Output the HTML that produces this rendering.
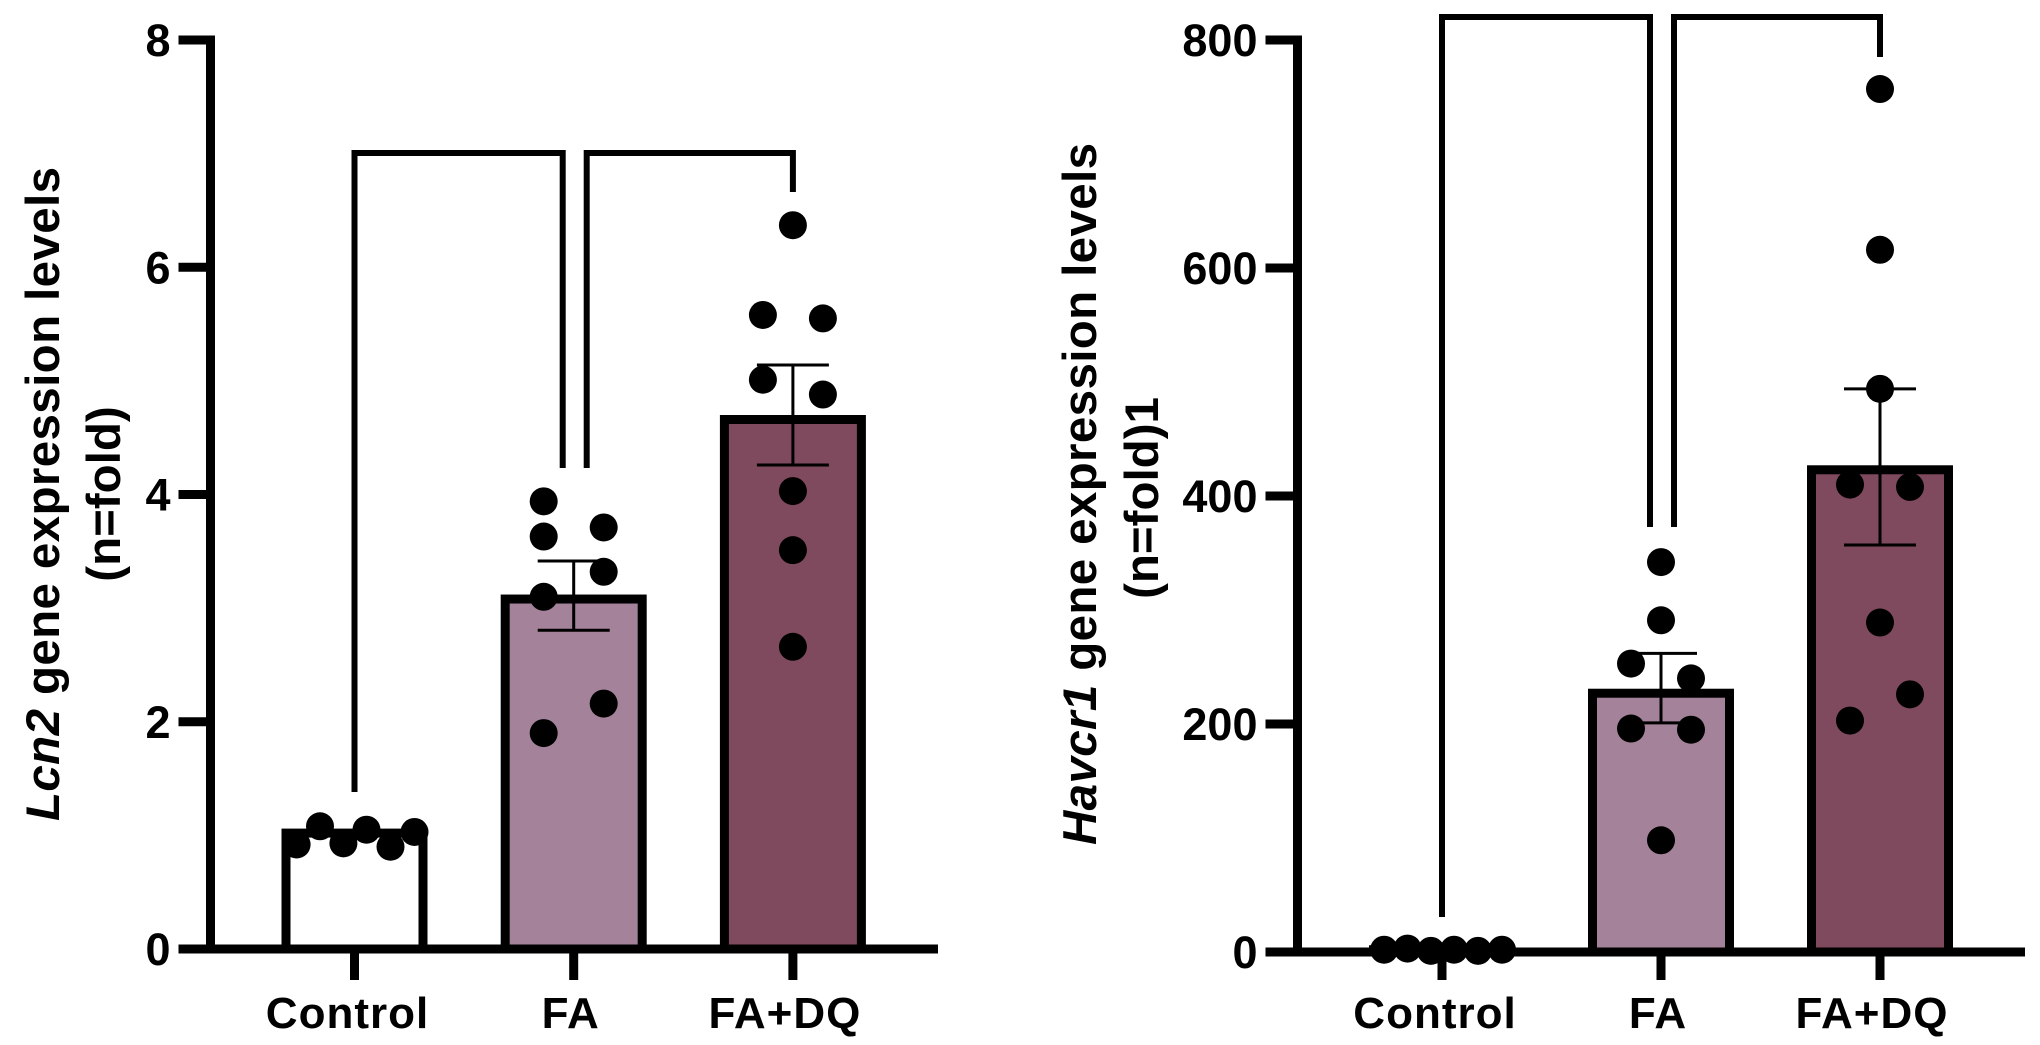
<!DOCTYPE html>
<html lang="en">
<head>
<meta charset="utf-8">
<title>Lcn2 and Havcr1 gene expression</title>
<style>
html,body{margin:0;padding:0;background:#fff;}
svg{display:block;}
text{font-family:"Liberation Sans",Arial,sans-serif;font-weight:bold;fill:#000;}
</style>
</head>
<body>
<svg id="chart" xmlns="http://www.w3.org/2000/svg" width="2040" height="1045" viewBox="0 0 2040 1045">
  <rect width="2040" height="1045" fill="#fff"/>
  <g id="panel-left"></g>
  <g id="panel-right"></g>
  <text transform="translate(59,494) rotate(-90)" text-anchor="middle" font-size="47.5" textLength="654" lengthAdjust="spacing"><tspan font-style="italic">Lcn2</tspan> gene expression levels</text>
  <text transform="translate(120,494) rotate(-90)" text-anchor="middle" font-size="47.5">(n=fold)</text>
  <text transform="translate(1096,494) rotate(-90)" text-anchor="middle" font-size="47.5" textLength="702" lengthAdjust="spacing"><tspan font-style="italic">Havcr1</tspan> gene expression levels</text>
  <text transform="translate(1158,498) rotate(-90)" text-anchor="middle" font-size="47.5">(n=fold)1</text>
</svg>
<script>
const categories = ['Control', 'FA', 'FA+DQ'];
const barColors = ['#ffffff', '#a4839a', '#7f4a5d'];

const lcn2Ticks = [0, 2, 4, 6, 8];
const lcn2Means = [1.02, 3.08, 4.66];
const lcn2ErrHigh = [1.05, 3.415, 5.14];
const lcn2ErrLow = [0.95, 2.805, 4.26];
const lcn2Control = [0.92, 1.08, 0.93, 1.05, 0.90, 1.03];
const lcn2FA = [3.94, 3.63, 3.71, 3.32, 3.10, 2.16, 1.90];
const lcn2FADQ = [6.37, 5.58, 5.55, 5.01, 4.88, 4.03, 3.51, 2.66];

const havcr1Ticks = [0, 200, 400, 600, 800];
const havcr1Means = [2, 227, 423];
const havcr1ErrHigh = [3, 262, 494];
const havcr1ErrLow = [1, 201, 357];
const havcr1Control = [2, 3, 1, 2, 1, 2];
const havcr1FA = [342, 291, 253, 240, 196, 195, 98];
const havcr1FADQ = [757, 616, 494, 410, 408, 289, 226, 203];

// swarm column of each point, in units of one dot spacing
const controlColumns = [-1.93, -1.15, -0.37, 0.4, 1.2, 2];
const lcn2FAColumns = [-1, -1, 1, 1, -1, 1, -1];
const lcn2FADQColumns = [0, -1, 1, -1, 1, 0, 0, 0];
const havcr1FAColumns = [0, 0, -1, 1, -1, 1, 0];
const havcr1FADQColumns = [0, 0, 0, -1, 1, 0, 1, -1];

const SVG_NS = 'http://www.w3.org/2000/svg';

function mk(parent, tag, attrs, txt) {
  const el = document.createElementNS(SVG_NS, tag);
  for (const k in attrs) el.setAttribute(k, attrs[k]);
  if (txt !== undefined) el.textContent = txt;
  parent.appendChild(el);
  return el;
}

function drawPanel(root, p) {
  const y = v => p.yZero + (p.yTop - p.yZero) * (v - p.ticks[0]) / (p.ticks[p.ticks.length - 1] - p.ticks[0]);
  const x = i => p.xFirst + i * p.xStep;
  const columnWidth = 30;
  const barWidth = 146, barStroke = 9, axisStroke = 9;
  const labelShift = i => (i === 0 ? -7 : i === 1 ? -3 : -8);

  categories.forEach((cat, i) => {
    const top = y(p.means[i]);
    const bar = mk(root, 'rect', {
      x: x(i) - barWidth / 2 + barStroke / 2,
      y: top,
      width: barWidth - barStroke,
      height: p.yZero - top,
      fill: barColors[i],
      stroke: '#000',
      'stroke-width': barStroke
    });
    
    
  });

  categories.forEach((cat, i) => {
    if (i === 0) return;
    const hi = y(p.errHigh[i]), lo = y(p.errLow[i]);
    const err = mk(root, 'path', {
      d: 'M' + x(i) + ' ' + hi + 'V' + lo + 'M' + (x(i) - 36) + ' ' + hi + 'H' + (x(i) + 36) + 'M' + (x(i) - 36) + ' ' + lo + 'H' + (x(i) + 36),
      fill: 'none',
      stroke: '#000',
      'stroke-width': 3
    });
    
    
  });

  p.points.forEach((vals, i) => {
    vals.forEach((v, j) => {
      const dot = mk(root, 'circle', {
        cx: x(i) + p.columns[i][j] * columnWidth,
        cy: y(v),
        r: 14,
        fill: '#000'
      });
      
      
    });
  });

  const yAxis = mk(root, 'line', {
    x1: p.axisX, x2: p.axisX,
    y1: y(p.ticks[p.ticks.length - 1]) - axisStroke / 2,
    y2: p.yZero + axisStroke / 2,
    stroke: '#000', 'stroke-width': axisStroke
  });
  
  

  const xAxis = mk(root, 'line', {
    x1: p.axisX - 32, x2: p.axisEnd,
    y1: p.yZero, y2: p.yZero,
    stroke: '#000', 'stroke-width': axisStroke
  });
  
  

  p.ticks.forEach(t => {
    const tick = mk(root, 'line', {
      x1: p.axisX - 32, x2: p.axisX,
      y1: y(t), y2: y(t),
      stroke: '#000', 'stroke-width': axisStroke
    });
    
    

    const label = mk(root, 'text', {
      x: p.axisX - 40,
      y: y(t) + 16,
      'text-anchor': 'end',
      'font-size': 45
    }, String(t));
    
    
  });

  categories.forEach((cat, i) => {
    const tick = mk(root, 'line', {
      x1: x(i), x2: x(i),
      y1: p.yZero, y2: 980,
      stroke: '#000', 'stroke-width': axisStroke
    });
    
    

    const label = mk(root, 'text', {
      x: x(i) + labelShift(i),
      y: 1028,
      'text-anchor': 'middle',
      'font-size': 44,
      'letter-spacing': 1
    }, cat);
    
    
  });

  const b = p.bracket;
  const left = mk(root, 'path', {
    d: 'M' + x(0) + ' ' + b.controlEnd + 'V' + b.top + 'H' + (x(1) - 11) + 'V' + b.midEnd,
    fill: 'none', stroke: '#000', 'stroke-width': 6
  });
  
  

  const right = mk(root, 'path', {
    d: 'M' + (x(1) + 13) + ' ' + b.midEnd + 'V' + b.top + 'H' + x(2) + 'V' + b.dqEnd,
    fill: 'none', stroke: '#000', 'stroke-width': 6
  });
  
  
}

drawPanel(document.getElementById('panel-left'), {
  ticks: lcn2Ticks, yZero: 949, yTop: 40, axisX: 210.5, axisEnd: 938,
  xFirst: 354.5, xStep: 219.2,
  means: lcn2Means, errHigh: lcn2ErrHigh, errLow: lcn2ErrLow,
  points: [lcn2Control, lcn2FA, lcn2FADQ],
  columns: [controlColumns, lcn2FAColumns, lcn2FADQColumns],
  bracket: { top: 153, controlEnd: 792, midEnd: 468, dqEnd: 192 }
});

drawPanel(document.getElementById('panel-right'), {
  ticks: havcr1Ticks, yZero: 952, yTop: 40, axisX: 1297.5, axisEnd: 2025,
  xFirst: 1442, xStep: 219,
  means: havcr1Means, errHigh: havcr1ErrHigh, errLow: havcr1ErrLow,
  points: [havcr1Control, havcr1FA, havcr1FADQ],
  columns: [controlColumns, havcr1FAColumns, havcr1FADQColumns],
  bracket: { top: 17, controlEnd: 917, midEnd: 527, dqEnd: 57 }
});
</script>
</body>
</html>
